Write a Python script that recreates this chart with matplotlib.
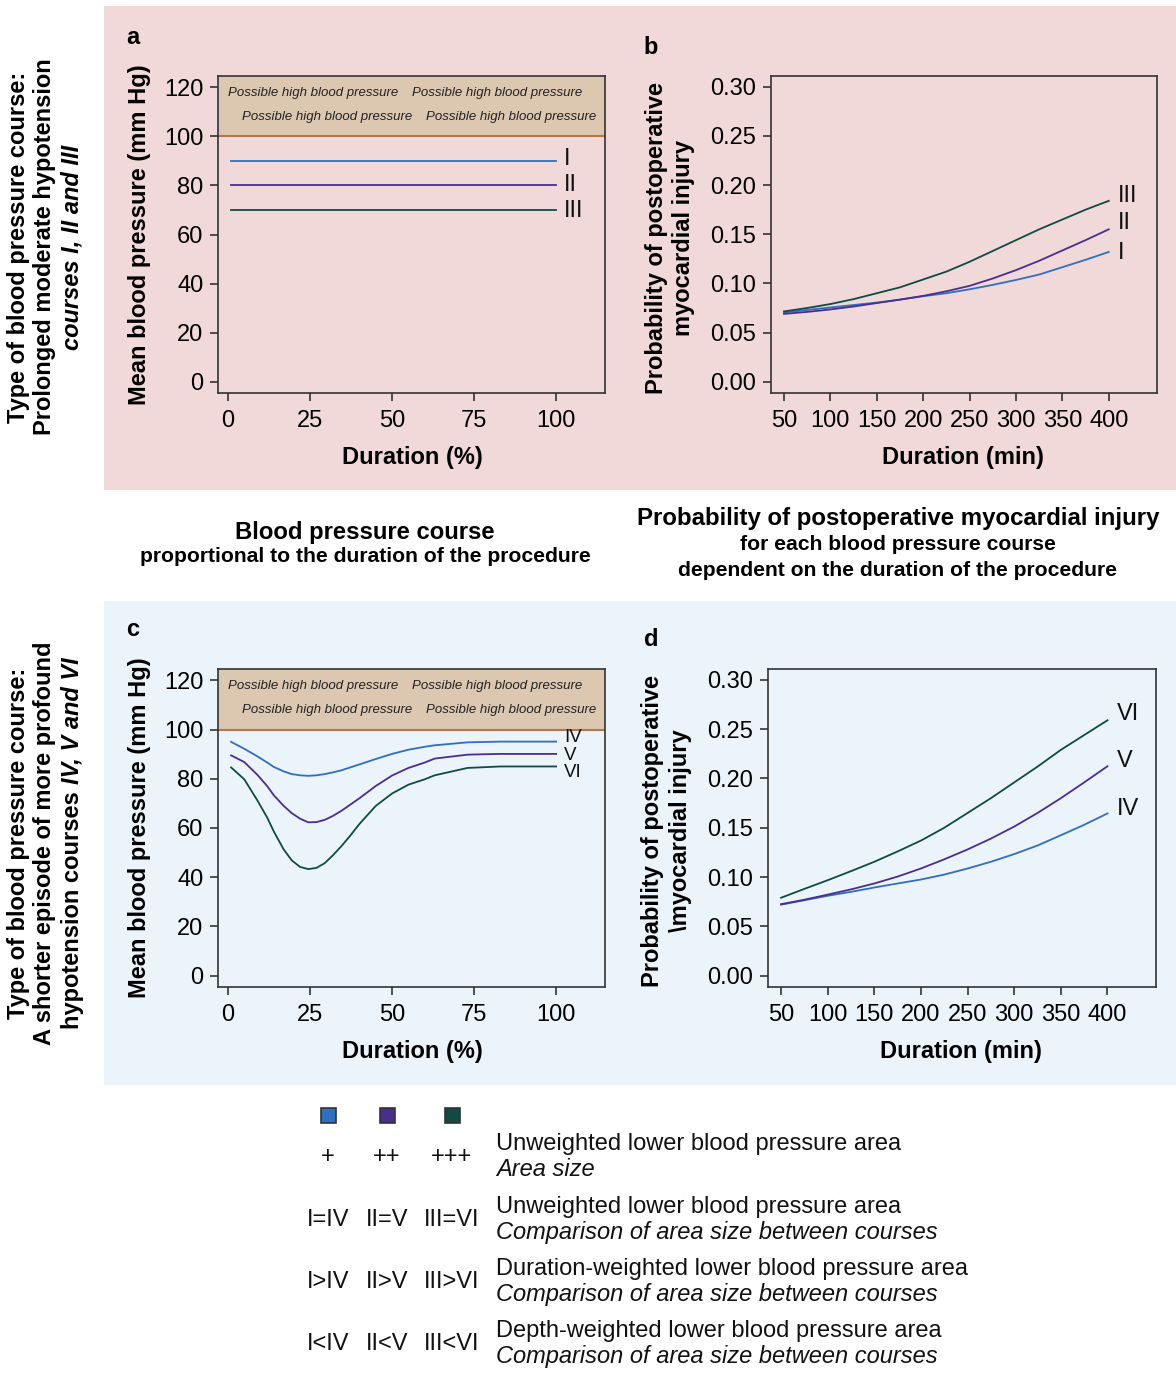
import numpy as np
import matplotlib
matplotlib.use('Agg')
import matplotlib.pyplot as plt
from matplotlib.patches import Rectangle
from matplotlib.ticker import FormatStrFormatter

plt.rcParams['font.family'] = ['Liberation Sans', 'DejaVu Sans']

W, H, DPI = 1176, 1373, 100

# ── data ──────────────────────────────────────────────────────────────────
# panel a: constant courses I-III over the duration (%)
pct_flat = [1, 100]
bp_I = [90, 90]
bp_II = [80, 80]
bp_III = [70, 70]

# panel c: short profound episode, courses IV-VI
pct_c = [1, 5, 9, 12, 14, 17, 19.5, 22, 24.5, 27, 29.5, 32, 34.5, 37, 40,
         45, 50, 55, 60, 63, 73, 83, 100]
bp_IV = [95.0, 92.2, 89.1, 86.6, 84.8, 83.0, 81.9, 81.4, 81.2, 81.4, 81.9, 82.6,
         83.4, 84.5, 85.8, 88.0, 90.1, 91.8, 93.0, 93.6, 94.8, 95.1, 95.1]
bp_V = [89.5, 86.8, 81.6, 77.0, 73.3, 69.0, 66.0, 63.8, 62.3, 62.4, 63.3, 64.9,
        66.9, 69.2, 72.0, 77.0, 81.3, 84.4, 86.6, 88.2, 89.8, 90.1, 90.1]
bp_VI = [84.6, 79.8, 71.2, 64.2, 58.6, 51.3, 46.8, 44.2, 43.3, 43.8, 45.7, 48.9,
         52.5, 56.4, 61.5, 68.9, 74.0, 77.6, 79.8, 81.4, 84.4, 85.0, 85.0]

# panels b/d: probability of postoperative myocardial injury vs duration (min)
dur_min = [50, 75, 100, 125, 150, 175, 200, 225, 250, 275, 300, 325, 350, 375, 400]
p_I = [0.0705, 0.073, 0.0755, 0.078, 0.0805, 0.0835, 0.087, 0.090, 0.094,
       0.0985, 0.1035, 0.109, 0.1165, 0.124, 0.132]
p_II = [0.069, 0.071, 0.0735, 0.0765, 0.080, 0.0835, 0.0873, 0.092, 0.0975,
        0.105, 0.1135, 0.123, 0.1335, 0.144, 0.155]
p_III = [0.0715, 0.075, 0.079, 0.084, 0.090, 0.096, 0.104, 0.112, 0.122,
         0.133, 0.144, 0.155, 0.165, 0.175, 0.184]
p_IV = [0.072, 0.0765, 0.081, 0.085, 0.0894, 0.0935, 0.0975, 0.1025, 0.1087,
        0.1155, 0.1233, 0.132, 0.1424, 0.153, 0.1645]
p_V = [0.0725, 0.077, 0.0822, 0.0875, 0.0935, 0.1005, 0.1087, 0.118, 0.128,
       0.139, 0.1512, 0.165, 0.180, 0.196, 0.2124]
p_VI = [0.079, 0.088, 0.0968, 0.106, 0.1155, 0.126, 0.137, 0.150, 0.165,
        0.180, 0.196, 0.212, 0.229, 0.244, 0.259]

names_top = ['I', 'II', 'III']
names_bot = ['IV', 'V', 'VI']
pct_ticks = [0, 25, 50, 75, 100]
bp_ticks = [0, 20, 40, 60, 80, 100, 120]
min_ticks = [50, 100, 150, 200, 250, 300, 350, 400]
prob_ticks = [0.0, 0.05, 0.10, 0.15, 0.20, 0.25, 0.30]

legend_symbols = [['+', '++', '+++'],
                  ['I=IV', 'II=V', 'III=VI'],
                  ['I>IV', 'II>V', 'III>VI'],
                  ['I<IV', 'II<V', 'III<VI']]
legend_text = [('Unweighted lower blood pressure area', 'Area size'),
               ('Unweighted lower blood pressure area', 'Comparison of area size between courses'),
               ('Duration-weighted lower blood pressure area', 'Comparison of area size between courses'),
               ('Depth-weighted lower blood pressure area', 'Comparison of area size between courses')]

# ── style ─────────────────────────────────────────────────────────────────
COLORS = ['#2f6fbf', '#4a2d8f', '#0f4a45']
PINK = '#f0d9d8'
BLUE_BG = '#ebf3fb'
BAND = '#dcc7b1'
BAND_LINE = '#b5764a'
SPINE = '#333333'
TICK_FS = 17
LAB_FS = 17

fig = plt.figure(figsize=(W / DPI, H / DPI), dpi=DPI)

# background layer in pixel coordinates
bg = fig.add_axes([0, 0, 1, 1], zorder=0)
bg.set_xlim(0, W)
bg.set_ylim(H, 0)
bg.axis('off')
bg.add_patch(Rectangle((104, 6), W - 104, 484, color=PINK, lw=0))
bg.add_patch(Rectangle((104, 601), W - 104, 484, color=BLUE_BG, lw=0))


def px_axes(left, top, right, bottom):
    ax = fig.add_axes([left / W, 1 - bottom / H, (right - left) / W, (bottom - top) / H],
                      zorder=1)
    ax.set_facecolor('none')
    for s in ax.spines.values():
        s.set_color(SPINE)
        s.set_linewidth(1.2)
    ax.tick_params(length=5.5, width=1.2, color=SPINE, labelsize=TICK_FS,
                   direction='out', pad=5)
    ax.tick_params(axis='x', pad=7)
    return ax


def bp_panel(ax, series, names, label_y, label_fs):
    ax.axhspan(100, 130, color=BAND, lw=0, zorder=0)
    ax.axhline(100, color=BAND_LINE, lw=1.5, zorder=1)
    for xs, ys, c in series:
        ax.plot(xs, ys, color=c, lw=1.3, zorder=2)
    for n, ly in zip(names, label_y):
        ax.text(102.4, ly, n, fontsize=label_fs, va='center', ha='left', color='#111111')
    for x0, yy in [(0, 117.6), (56.1, 117.6), (4.3, 107.8), (60.4, 107.8)]:
        ax.text(x0, yy, 'Possible high blood pressure', fontsize=9.5, style='italic',
                va='center', ha='left', color='#222222')
    ax.set_xlim(-3.0, 114.9)
    ax.set_ylim(-4.6, 124.6)
    ax.set_xticks(pct_ticks)
    ax.set_yticks(bp_ticks)
    ax.set_xlabel('Duration (%)', fontsize=LAB_FS, fontweight='bold', va='center')
    ax.set_ylabel('Mean blood pressure (mm Hg)', fontsize=LAB_FS, fontweight='bold',
                  va='center')
    ax.yaxis.set_label_coords(-0.2016, 0.5)
    ax.xaxis.set_label_coords(0.501, -0.202)


def prob_panel(ax, series, names, ylab, label_off):
    for ys, c in series:
        ax.plot(dur_min, ys, color=c, lw=1.3)
    for (ys, c), n, off in zip(series, names, label_off):
        ax.text(410, ys[-1] + off, n, fontsize=LAB_FS, va='center', ha='left',
                color='#111111')
    ax.set_xlim(36, 452)
    ax.set_ylim(-0.0115, 0.311)
    ax.set_xticks(min_ticks)
    ax.set_yticks(prob_ticks)
    ax.yaxis.set_major_formatter(FormatStrFormatter('%.2f'))
    ax.set_xlabel('Duration (min)', fontsize=LAB_FS, fontweight='bold', va='center')
    ax.set_ylabel(ylab, fontsize=LAB_FS, fontweight='bold', va='center',
                  linespacing=1.25)
    ax.yaxis.set_label_coords(-0.262, 0.49)
    ax.xaxis.set_label_coords(0.497, -0.202)


ax_a = px_axes(218, 76, 605, 393)
bp_panel(ax_a, [(pct_flat, bp_I, COLORS[0]), (pct_flat, bp_II, COLORS[1]),
                (pct_flat, bp_III, COLORS[2])],
         names_top, [90.7, 80.0, 69.6], LAB_FS)

ax_b = px_axes(771, 76, 1157, 393)
prob_panel(ax_b, [(p_I, COLORS[0]), (p_II, COLORS[1]), (p_III, COLORS[2])],
           names_top, 'Probability of postoperative\nmyocardial injury',
           [-0.001, 0.006, 0.005])

ax_c = px_axes(218, 669, 605, 987)
bp_panel(ax_c, [(pct_c, bp_IV, COLORS[0]), (pct_c, bp_V, COLORS[1]),
                (pct_c, bp_VI, COLORS[2])],
         names_bot, [96.7, 89.4, 82.4], 13.5)

ax_d = px_axes(768, 669, 1156, 987)
prob_panel(ax_d, [(p_IV, COLORS[0]), (p_V, COLORS[1]), (p_VI, COLORS[2])],
           names_bot, 'Probability of postoperative\n\\myocardial injury',
           [0.0045, 0.0056, 0.006])

# panel letters
for letter, (x, y) in zip('abcd', [(133, 37), (651, 47), (133, 630), (651, 640)]):
    bg.text(x, y, letter, fontsize=LAB_FS, fontweight='bold', ha='center', va='center')

# middle captions
bg.text(365, 532, 'Blood pressure course', fontsize=17.2, fontweight='bold',
        ha='center', va='center')
bg.text(365, 557, 'proportional to the duration of the procedure', fontsize=15.2,
        fontweight='bold', ha='center', va='center')
bg.text(898, 518, 'Probability of postoperative myocardial injury', fontsize=17.3,
        fontweight='bold', ha='center', va='center')
bg.text(898, 545, 'for each blood pressure course', fontsize=15.2,
        fontweight='bold', ha='center', va='center')
bg.text(898, 571, 'dependent on the duration of the procedure', fontsize=15.2,
        fontweight='bold', ha='center', va='center')

# rotated side labels, built piecewise so styles can mix on one line
renderer = fig.canvas.get_renderer()
SIDE_FS = 17


def rot_line(x, yc, parts):
    objs = []
    for s, st in parts:
        objs.append(bg.text(0, 0, s, rotation=90, rotation_mode='anchor', ha='left',
                            va='center', fontsize=SIDE_FS, fontweight='bold',
                            fontstyle=st))
    gap = 0.278 * SIDE_FS * DPI / 72
    widths = [t.get_window_extent(renderer).height for t in objs]
    total = sum(widths) + gap * (len(objs) - 1)
    y = yc + total / 2
    for t, w in zip(objs, widths):
        t.set_position((x, y))
        y -= w + gap


rot_line(18, 247, [('Type of blood pressure course:', 'normal')])
rot_line(45, 247, [('Prolonged moderate hypotension', 'normal')])
rot_line(72, 247, [('courses I, II and III', 'italic')])
rot_line(18, 843, [('Type of blood pressure course:', 'normal')])
rot_line(45, 843, [('A shorter episode of more profound', 'normal')])
rot_line(72, 843, [('hypotension courses', 'normal'), ('IV, V and VI', 'italic')])

# legend block
col_x = [328, 387, 452]
for cx, c in zip(col_x, COLORS):
    bg.add_patch(Rectangle((cx - 7.5, 1108), 15, 15, facecolor=c,
                           edgecolor='#333333', lw=1.2))
row_y = [1157, 1220, 1282, 1344]
for ry, syms, (t1, t2) in zip(row_y, legend_symbols, legend_text):
    for cx, s in zip(col_x, syms):
        bg.text(cx, ry, s, fontsize=17, ha='center', va='center', color='#111111')
    bg.text(496, ry - 13, t1, fontsize=17, ha='left', va='center', color='#111111')
    bg.text(496, ry + 13, t2, fontsize=17, ha='left', va='center', style='italic',
            color='#111111')

fig.savefig('out.png', dpi=DPI)
